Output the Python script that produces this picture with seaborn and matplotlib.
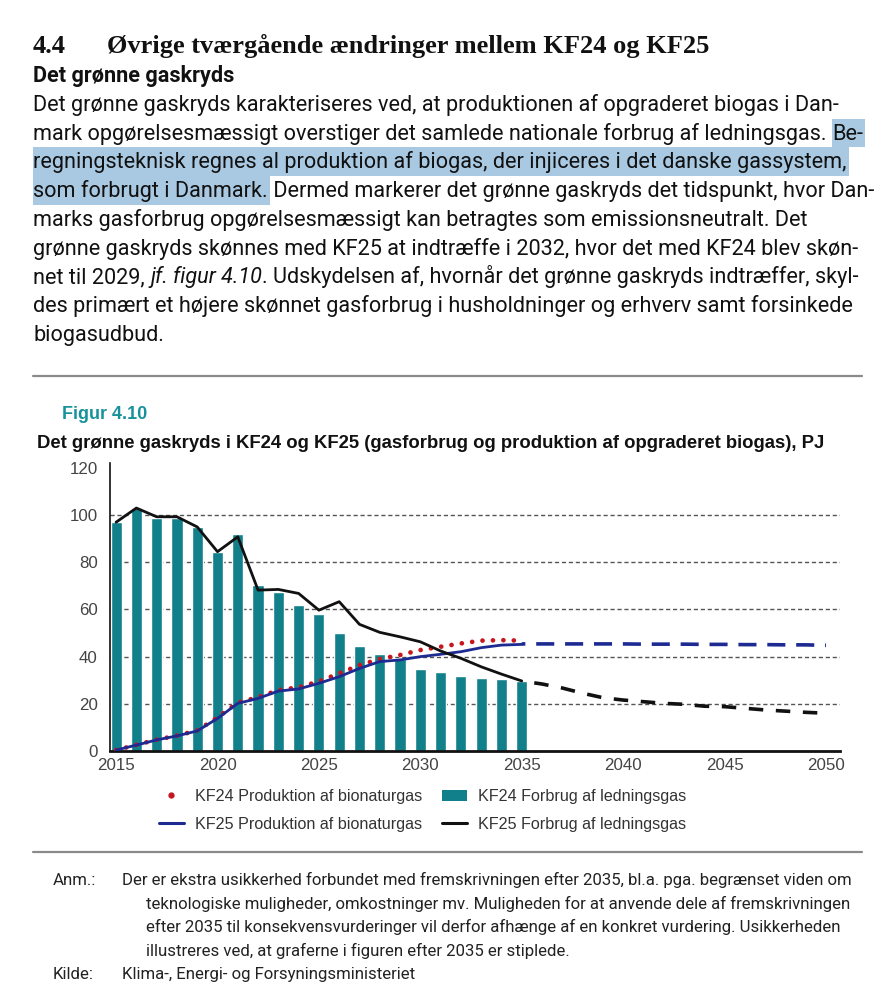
import numpy as np
import pandas as pd
import seaborn as sns
import matplotlib.pyplot as plt
from matplotlib.patches import Rectangle, Patch
from matplotlib.lines import Line2D

# --- data (PJ) ---
years_hist = list(range(2015, 2036))
years_proj = list(range(2035, 2051))

kf24_forbrug = [97.2, 103.0, 98.9, 98.6, 95.0, 84.5, 92.0, 70.3, 67.2, 62.1, 57.9,
                49.9, 44.6, 41.1, 39.0, 34.6, 33.3, 31.9, 30.8, 30.4, 29.7]
kf25_forbrug = [97.0, 103.0, 99.3, 99.3, 95.0, 84.5, 90.8, 68.2, 68.5, 66.8, 59.7,
                63.3, 53.7, 50.3, 48.4, 46.3, 42.4, 39.3, 35.7, 32.6, 29.7]
kf25_forbrug_proj = [29.7, 28.4, 26.7, 24.5, 22.6, 21.6, 20.9, 20.2, 19.8, 19.0,
                     18.8, 18.1, 17.4, 16.9, 16.4, 16.0]
kf24_prod = [0.4, 2.6, 4.8, 6.5, 8.7, 14.2, 20.5, 22.8, 25.8, 27.0, 29.5,
             32.9, 36.4, 39.0, 40.7, 42.8, 44.2, 45.6, 46.8, 47.0, 46.8]
kf25_prod = [0.4, 2.5, 4.7, 6.4, 8.5, 13.8, 20.2, 22.3, 25.4, 26.3, 28.7,
             31.5, 35.0, 37.9, 38.6, 40.0, 41.0, 42.1, 43.8, 44.9, 45.2]
kf25_prod_proj = [45.4, 45.4, 45.4, 45.4, 45.4, 45.4, 45.3, 45.3, 45.3, 45.2,
                  45.2, 45.1, 45.1, 45.0, 45.0, 44.8]

x_ticks = [2015, 2020, 2025, 2030, 2035, 2040, 2045, 2050]
y_ticks = [0, 20, 40, 60, 80, 100, 120]

legend_labels = ["KF24 Produktion af bionaturgas", "KF24 Forbrug af ledningsgas",
                 "KF25 Produktion af bionaturgas", "KF25 Forbrug af ledningsgas"]

heading_num = "4.4"
heading = "Øvrige tværgående ændringer mellem KF24 og KF25"
subheading = "Det grønne gaskryds"
fig_label = "Figur 4.10"
fig_title = "Det grønne gaskryds i KF24 og KF25 (gasforbrug og produktion af opgraderet biogas), PJ"

# each body line: list of (text, style) with style n=normal, h=highlight, i=italic
body_lines = [
    [("Det grønne gaskryds karakteriseres ved, at produktionen af opgraderet biogas i Dan-", "n")],
    [("mark opgørelsesmæssigt overstiger det samlede nationale forbrug af ledningsgas. ", "n"), ("Be-", "h")],
    [("regningsteknisk regnes al produktion af biogas, der injiceres i det danske gassystem,", "h")],
    [("som forbrugt i Danmark.", "h"), (" Dermed markerer det grønne gaskryds det tidspunkt, hvor Dan-", "n")],
    [("marks gasforbrug opgørelsesmæssigt kan betragtes som emissionsneutralt. Det", "n")],
    [("grønne gaskryds skønnes med KF25 at indtræffe i 2032, hvor det med KF24 blev skøn-", "n")],
    [("net til 2029, ", "n"), ("jf. figur 4.10", "i"), (". Udskydelsen af, hvornår det grønne gaskryds indtræffer, skyl-", "n")],
    [("des primært et højere skønnet gasforbrug i husholdninger og erhverv samt forsinkede", "n")],
    [("biogasudbud.", "n")],
]

note_lines = [
    "Der er ekstra usikkerhed forbundet med fremskrivningen efter 2035, bl.a. pga. begrænset viden om",
    "teknologiske muligheder, omkostninger mv. Muligheden for at anvende dele af fremskrivningen",
    "efter 2035 til konsekvensvurderinger vil derfor afhænge af en konkret vurdering. Usikkerheden",
    "illustreres ved, at graferne i figuren efter 2035 er stiplede.",
]
source = "Klima-, Energi- og Forsyningsministeriet"

# --- colours ---
teal = "#12808a"
blue = "#1c2a92"
red = "#c8151d"
hl_color = "#a9c9e2"

sns.set_theme(style="white")
plt.rcParams['font.family'] = ['Roboto', 'DejaVu Sans']

W, H = 896, 1000
fig = plt.figure(figsize=(W / 100, H / 100), dpi=100)
renderer = fig.canvas.get_renderer()


def fx(x):
    return x / W


def fy(y):
    return 1 - y / H


def text_width(s, **kw):
    t = fig.text(0, 0, "." + s + ".", **kw)
    w1 = t.get_window_extent(renderer).width
    t.set_text("..")
    w2 = t.get_window_extent(renderer).width
    t.remove()
    return w1 - w2


def fit_size(s, target, **kw):
    return 10 * target / text_width(s, fontsize=10, **kw)


# --- page heading ---
serif = dict(family="Liberation Serif", fontweight="bold", color="#111111")
hsize = fit_size(heading, 605, **serif)
fig.text(fx(33), fy(53), heading_num, fontsize=hsize, va="baseline", **serif)
fig.text(fx(107), fy(53), heading, fontsize=hsize, va="baseline", **serif)

sub_kw = dict(family="Roboto", fontweight="bold", color="#111111")
fig.text(fx(33), fy(82), subheading, fontsize=fit_size(subheading, 201, **sub_kw),
         va="baseline", **sub_kw)

# --- body text ---
body_kw = dict(family="Roboto", color="#111111")
bsize = fit_size(body_lines[0][0][0], 805, **body_kw)
y0, dy = 111, 28.7
for i, line in enumerate(body_lines):
    base = y0 + i * dy
    x = 33
    for seg, style in line:
        kw = dict(body_kw)
        if style == "i":
            kw["fontstyle"] = "italic"
        w = text_width(seg, fontsize=bsize, **kw)
        if style == "h":
            xs = x + (text_width(" ", fontsize=bsize, **kw) if seg.startswith(" ") else 0)
            fig.add_artist(Rectangle((fx(xs), fy(base + 7.5)), (x + w - xs + 2) / W, dy / H,
                                     transform=fig.transFigure, facecolor=hl_color,
                                     edgecolor="none", zorder=0))
        fig.text(fx(x), fy(base), seg, fontsize=bsize, va="baseline", zorder=1, **kw)
        x += w

# --- separators ---
for ysep in (376, 852):
    fig.add_artist(Line2D([fx(33), fx(862)], [fy(ysep), fy(ysep)], color="#8a8a8a",
                          linewidth=1.6, transform=fig.transFigure))

# --- figure label and title ---
lab_kw = dict(family="Liberation Sans", fontweight="bold")
fig.text(fx(62), fy(419), fig_label, fontsize=fit_size(fig_label, 86, **lab_kw),
         color="#16939a", va="baseline", **lab_kw)
fig.text(fx(37), fy(448), fig_title, fontsize=fit_size(fig_title, 793, **lab_kw),
         color="#111111", va="baseline", **lab_kw)

# --- chart ---
ax = fig.add_axes([fx(110), fy(751), 730 / W, 288 / H])

df_hist = pd.DataFrame({"year": years_hist, "kf24_forbrug": kf24_forbrug,
                        "kf25_forbrug": kf25_forbrug, "kf24_prod": kf24_prod,
                        "kf25_prod": kf25_prod})
df_proj = pd.DataFrame({"year": years_proj, "forbrug": kf25_forbrug_proj,
                        "prod": kf25_prod_proj})

for g in y_ticks[1:-1]:
    ax.axhline(g, color="#555555", linewidth=1.0, linestyle=(0, (3, 2)), zorder=1)

sns.barplot(data=df_hist, x="year", y="kf24_forbrug", native_scale=True, width=0.55,
            color=teal, saturation=1, ax=ax, zorder=2)
sns.lineplot(data=df_hist, x="year", y="kf24_prod", ax=ax, color=red, linewidth=3.4,
             linestyle=(0, (0.01, 2.2)), dash_capstyle="round", legend=False, zorder=3)
sns.lineplot(data=df_hist, x="year", y="kf25_prod", ax=ax, color=blue, linewidth=2.0,
             legend=False, zorder=4)
sns.lineplot(data=df_hist, x="year", y="kf25_forbrug", ax=ax, color="#111111",
             linewidth=2.0, legend=False, zorder=4)
sns.lineplot(data=df_proj, x="year", y="prod", ax=ax, color=blue, linewidth=2.6,
             linestyle=(4, (5, 3)), legend=False, zorder=4)
sns.lineplot(data=df_proj, x="year", y="forbrug", ax=ax, color="#111111", linewidth=2.6,
             linestyle=(4, (4, 3.5)), legend=False, zorder=4)

ax.set_xlim(2014.70, 2050.69)
ax.set_ylim(0, 122.1)
ax.set_xticks(x_ticks)
ax.set_yticks(y_ticks)
ax.set_xlabel("")
ax.set_ylabel("")
ax.tick_params(length=0, labelsize=12.2, labelcolor="#444444")
ax.tick_params(axis="y", pad=9)
ax.tick_params(axis="x", pad=5)
for lbl in ax.get_xticklabels() + ax.get_yticklabels():
    lbl.set_family("Liberation Sans")
sns.despine(ax=ax)
ax.spines["left"].set_color("#111111")
ax.spines["left"].set_linewidth(1.2)
ax.spines["bottom"].set_color("#111111")
ax.spines["bottom"].set_linewidth(2.0)
ax.patch.set_alpha(0)

# legend (ncol=2 fills by column)
handles = [
    Line2D([], [], color=red, marker="o", markersize=3.5, linestyle="none"),
    Line2D([], [], color=blue, linewidth=2.2),
    Patch(facecolor=teal, edgecolor="none"),
    Line2D([], [], color="#111111", linewidth=2.2),
]
labels = [legend_labels[0], legend_labels[2], legend_labels[1], legend_labels[3]]
fig.legend(handles, labels, ncol=2, loc="upper left", bbox_to_anchor=(fx(159), fy(789)),
           frameon=False, borderpad=0, borderaxespad=0, handlelength=1.55,
           handletextpad=0.68, columnspacing=1.25, labelspacing=0.8,
           prop=dict(family="Liberation Sans", size=11.6), labelcolor="#333333")

# --- notes ---
note_kw = dict(family="Roboto", color="#222222")
nsize = fit_size(note_lines[0], 853 - 122, **note_kw)
fig.text(fx(53), fy(885), "Anm.:", fontsize=nsize, va="baseline", **note_kw)
for i, nl in enumerate(note_lines):
    fig.text(fx(122 if i == 0 else 146), fy(885 + i * 23.6), nl, fontsize=nsize,
             va="baseline", **note_kw)
fig.text(fx(53), fy(979), "Kilde:", fontsize=nsize, va="baseline", **note_kw)
fig.text(fx(122), fy(979), source, fontsize=nsize, va="baseline", **note_kw)

fig.savefig("out.png", dpi=100)
